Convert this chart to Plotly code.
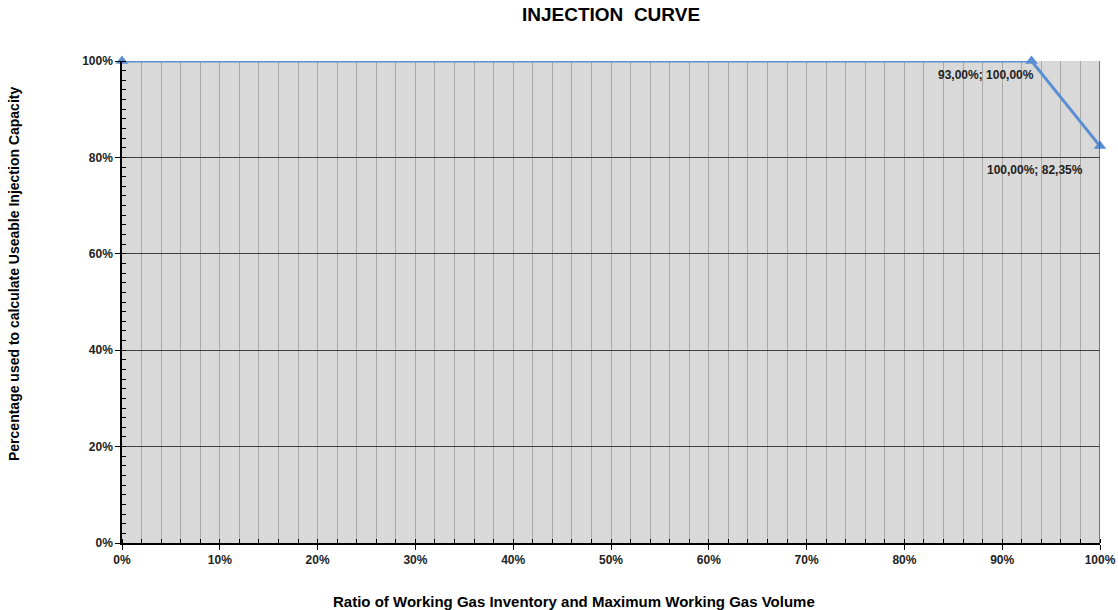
import plotly.graph_objects as go

ratio_pct = [0, 93, 100]
capacity_pct = [100, 100, 82.35]
labelled_idx = [1, 2]
x_ticks = list(range(0, 101, 10))
y_ticks = list(range(0, 101, 20))

def fmt(v):
    return f"{v:.2f}%".replace(".", ",")

FONT = "Liberation Sans, Arial, sans-serif"

fig = go.Figure()
fig.add_trace(go.Scatter(
    x=ratio_pct, y=capacity_pct, mode="lines+markers",
    line=dict(color="#5B8ED2", width=3),
    marker=dict(symbol="triangle-up", size=11, color="#5B8ED2"),
    cliponaxis=False, showlegend=False, hoverinfo="skip"))

offsets = {1: (-46, 14), 2: (-65, 24)}
for i in labelled_idx:
    ax, ay = offsets[i]
    fig.add_annotation(x=ratio_pct[i], y=capacity_pct[i],
                       text=f"<b>{fmt(ratio_pct[i])}; {fmt(capacity_pct[i])}</b>",
                       showarrow=False, xshift=ax, yshift=-ay,
                       font=dict(family=FONT, size=12, color="#222"))

# titles
fig.add_annotation(text="<b>INJECTION  CURVE</b>", xref="paper", yref="paper",
                   x=0.5, y=1, yshift=47, xanchor="center", yanchor="middle",
                   showarrow=False, font=dict(family=FONT, size=19, color="black"))
fig.add_annotation(text="<b>Ratio of Working Gas Inventory and Maximum Working Gas Volume</b>",
                   xref="paper", yref="paper", x=(574 - 122) / 978, y=0, yshift=-58,
                   xanchor="center", yanchor="middle", showarrow=False,
                   font=dict(family=FONT, size=15, color="black"))
fig.add_annotation(text="<b>Percentage used to calculate Useable Injection Capacity</b>",
                   xref="paper", yref="paper", x=0, xshift=-108, y=(543 - 274) / 482,
                   xanchor="center", yanchor="middle", textangle=-90, showarrow=False,
                   font=dict(family=FONT, size=14, color="black"))

fig.update_layout(
    width=1118, height=610,
    margin=dict(l=122, r=18, t=61, b=67, autoexpand=False),
    paper_bgcolor="white", plot_bgcolor="#D9D9D9",
    font=dict(family=FONT, size=12, color="#222"),
)
fig.update_xaxes(
    range=[0, 100], tickvals=x_ticks, ticktext=[f"<b>{v}%</b>" for v in x_ticks],
    automargin=False,
    showline=True, linecolor="black", linewidth=1.5, mirror=False,
    ticks="outside", ticklen=5, tickcolor="black",
    showgrid=True, gridcolor="#A8A8A8", gridwidth=1,
    minor=dict(dtick=2, showgrid=True, gridcolor="#A8A8A8", gridwidth=1, ticks="inside", ticklen=4, tickcolor="black"),
    zeroline=False,
)
fig.update_yaxes(
    range=[0, 100], tickvals=y_ticks, ticktext=[f"<b>{v}%</b>" for v in y_ticks],
    automargin=False,
    showline=True, linecolor="black", linewidth=1.5,
    ticks="outside", ticklen=5, tickcolor="black",
    showgrid=True, gridcolor="#404040", gridwidth=1,
    minor=dict(dtick=2, showgrid=False, ticks="inside", ticklen=4, tickcolor="black"),
    zeroline=False,
)
fig.add_shape(type="line", xref="x", yref="paper", x0=100, x1=100, y0=0, y1=1,
              line=dict(color="#44546A", width=1.5))

fig.write_html("out.html", config={"displayModeBar": False},
               post_script="document.body.style.margin='0';document.body.style.overflow='hidden';")
